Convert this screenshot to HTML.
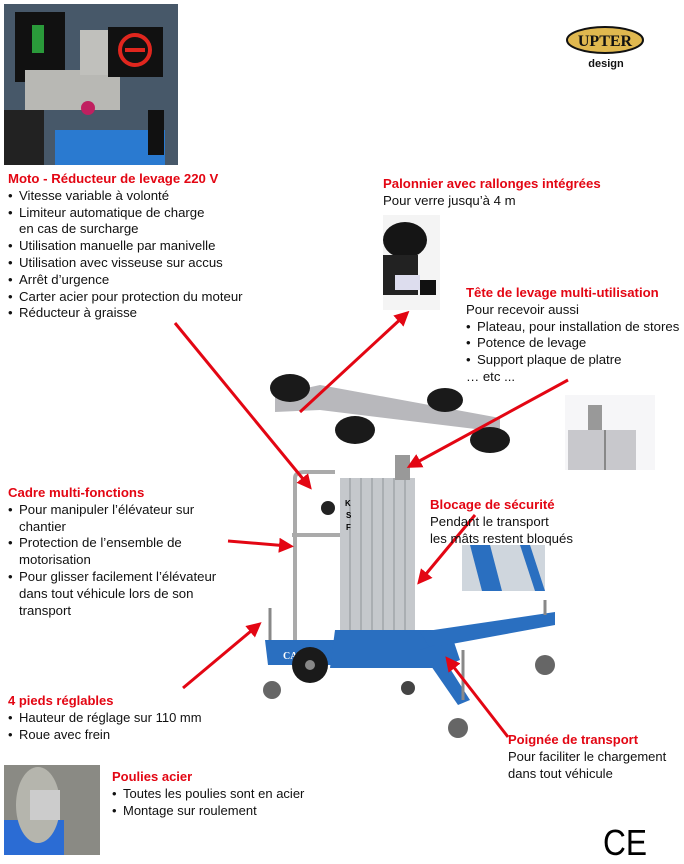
<!DOCTYPE html>
<html><head><meta charset="utf-8"><style>
*{margin:0;padding:0;box-sizing:border-box}
body{width:684px;height:864px;background:#fff;position:relative;overflow:hidden;font-family:"Liberation Sans",Arial,sans-serif;color:#111}
.t{position:absolute;font-size:13.2px;line-height:16.8px;white-space:nowrap}
.h{color:#e30613;font-weight:bold}
.b{padding-left:11px;position:relative}
.b:before{content:"•";position:absolute;left:0}
.c{font-size:13px}
svg{position:absolute;left:0;top:0}
</style></head><body>
<svg width="684" height="864" viewBox="0 0 684 864">
<defs><marker id="a" markerWidth="5" markerHeight="5" refX="3" refY="2.5" orient="auto" markerUnits="strokeWidth"><path d="M0,0 L5,2.5 L0,5 z" fill="#e30613"/></marker></defs>
<rect x="4" y="4" width="174" height="161" fill="#5a6a7a"/>
<rect x="4" y="4" width="174" height="161" fill="#3b4c5e" opacity=".6"/>
<rect x="15" y="12" width="50" height="70" fill="#111"/>
<rect x="32" y="25" width="12" height="28" fill="#2a9a3a"/>
<rect x="25" y="70" width="95" height="40" fill="#b8b8b4"/>
<rect x="80" y="30" width="35" height="45" fill="#c0c0bc"/>
<rect x="108" y="27" width="55" height="50" fill="#111"/>
<circle cx="135" cy="50" r="15" fill="none" stroke="#e0261e" stroke-width="4"/>
<rect x="125" y="48" width="20" height="4" fill="#e0261e"/>
<circle cx="88" cy="108" r="7" fill="#c02060"/>
<rect x="55" y="130" width="110" height="35" fill="#2a7ad0"/>
<rect x="148" y="110" width="16" height="45" fill="#111"/>
<rect x="4" y="110" width="40" height="55" fill="#222"/>
<ellipse cx="605" cy="40" rx="38" ry="13" fill="#e0b84f" stroke="#111" stroke-width="2"/>
<text x="605" y="46" text-anchor="middle" font-family="Liberation Serif" font-weight="bold" font-size="16" fill="#111">UPTER</text>
<text x="606" y="67" text-anchor="middle" font-family="Liberation Sans" font-weight="bold" font-size="11" fill="#111">design</text>
<rect x="383" y="215" width="57" height="95" fill="#f4f4f4"/>
<ellipse cx="405" cy="240" rx="22" ry="18" fill="#151515"/>
<rect x="383" y="255" width="35" height="40" fill="#222"/>
<rect x="395" y="275" width="25" height="15" fill="#dde"/>
<rect x="420" y="280" width="16" height="15" fill="#111"/>
<rect x="565" y="395" width="90" height="75" fill="#f6f6f8"/>
<rect x="588" y="405" width="14" height="25" fill="#999"/>
<rect x="568" y="430" width="68" height="40" fill="#c8c8cc"/>
<rect x="604" y="430" width="2" height="40" fill="#888"/>
<rect x="462" y="545" width="83" height="46" fill="#cfd6dd"/>
<path d="M470 545 L490 545 L502 591 L482 591z" fill="#2a6fc0"/>
<path d="M520 545 L530 545 L545 591 L535 591z" fill="#2a6fc0"/>
<rect x="4" y="765" width="96" height="90" fill="#8a8a84"/>
<rect x="4" y="820" width="60" height="35" fill="#2b6cd4"/>
<ellipse cx="38" cy="805" rx="22" ry="38" fill="#b5b5ad"/>
<rect x="30" y="790" width="30" height="30" fill="#ccc"/>
<g>
<rect x="340" y="478" width="75" height="162" fill="#c5c8cc"/>
<g stroke="#8f9398" stroke-width="1"><line x1="350" y1="478" x2="350" y2="640"/><line x1="361" y1="478" x2="361" y2="640"/><line x1="372" y1="478" x2="372" y2="640"/><line x1="383" y1="478" x2="383" y2="640"/><line x1="394" y1="478" x2="394" y2="640"/><line x1="405" y1="478" x2="405" y2="640"/></g>
<text x="345" y="506" font-size="8" font-weight="bold">K</text><text x="346" y="518" font-size="8" font-weight="bold">S</text><text x="346" y="530" font-size="8" font-weight="bold">F</text>
<path d="M295 478 L295 640 M295 478 Q295 472 305 472 L335 472 M292 535 L340 535" stroke="#aaa" stroke-width="4" fill="none"/>
<circle cx="328" cy="508" r="7" fill="#222"/>
<rect x="395" y="455" width="15" height="25" fill="#999"/>
<polygon points="275,395 320,385 500,418 500,432 320,410 275,412" fill="#b8b8bc"/>
<ellipse cx="290" cy="388" rx="20" ry="14" fill="#1a1a1a"/>
<ellipse cx="355" cy="430" rx="20" ry="14" fill="#1a1a1a"/>
<ellipse cx="445" cy="400" rx="18" ry="12" fill="#1a1a1a"/>
<ellipse cx="490" cy="440" rx="20" ry="13" fill="#1a1a1a"/>
<polygon points="265,640 340,640 340,665 268,665" fill="#2a6fc0"/>
<polygon points="335,630 450,630 460,660 440,668 330,668" fill="#2a6fc0"/>
<polygon points="420,632 555,612 555,625 430,648" fill="#2a6fc0"/>
<polygon points="420,650 435,645 470,700 458,705" fill="#2a6fc0"/>
<text x="283" y="659" fill="#fff" font-family="Liberation Serif" font-weight="bold" font-size="10">CA-400P</text>
<circle cx="310" cy="665" r="18" fill="#1a1a1a"/><circle cx="310" cy="665" r="5" fill="#888"/>
<circle cx="272" cy="690" r="9" fill="#666"/>
<circle cx="408" cy="688" r="7" fill="#444"/>
<circle cx="458" cy="728" r="10" fill="#666"/>
<circle cx="545" cy="665" r="10" fill="#666"/>
<line x1="270" y1="608" x2="270" y2="640" stroke="#888" stroke-width="3"/>
<line x1="545" y1="600" x2="545" y2="615" stroke="#888" stroke-width="3"/>
<line x1="463" y1="650" x2="463" y2="700" stroke="#888" stroke-width="3"/>
</g>
<g stroke="#e30613" stroke-width="3" fill="none" marker-end="url(#a)">
<line x1="175" y1="323" x2="308" y2="485"/>
<line x1="300" y1="412" x2="405" y2="315"/>
<line x1="568" y1="380" x2="412" y2="465"/>
<line x1="228" y1="541" x2="288" y2="546"/>
<line x1="475" y1="515" x2="421" y2="580"/>
<line x1="183" y1="688" x2="257" y2="626"/>
<line x1="508" y1="737" x2="449" y2="661"/>
</g>
<text x="603" y="855" font-family="Liberation Sans" font-size="36" fill="#000" textLength="44" lengthAdjust="spacingAndGlyphs">CE</text>
</svg>

<div class="t" style="left:8px;top:171px">
<div class="h">Moto - Réducteur de levage 220 V</div>
<div class="b">Vitesse variable à volonté</div>
<div class="b">Limiteur automatique de charge<br>en cas de surcharge</div>
<div class="b">Utilisation manuelle par manivelle</div>
<div class="b">Utilisation avec visseuse sur accus</div>
<div class="b">Arrêt d’urgence</div>
<div class="b">Carter acier pour protection du moteur</div>
<div class="b">Réducteur à graisse</div>
</div>

<div class="t" style="left:383px;top:176px">
<div class="h">Palonnier avec rallonges intégrées</div>
<div>Pour verre jusqu’à 4 m</div>
</div>

<div class="t" style="left:466px;top:285px">
<div class="h">Tête de levage multi-utilisation</div>
<div>Pour recevoir aussi</div>
<div class="b">Plateau, pour installation de stores</div>
<div class="b">Potence de levage</div>
<div class="b">Support plaque de platre</div>
<div>… etc ...</div>
</div>

<div class="t" style="left:8px;top:485px">
<div class="h">Cadre multi-fonctions</div>
<div class="b">Pour manipuler l’élévateur sur<br>chantier</div>
<div class="b">Protection de l’ensemble de<br>motorisation</div>
<div class="b">Pour glisser facilement l’élévateur<br>dans tout véhicule lors de son<br>transport</div>
</div>

<div class="t" style="left:430px;top:497px">
<div class="h">Blocage de sécurité</div>
<div>Pendant le transport</div>
<div>les mâts restent bloqués</div>
</div>

<div class="t c" style="left:8px;top:693px">
<div class="h">4 pieds réglables</div>
<div class="b">Hauteur de réglage sur 110 mm</div>
<div class="b">Roue avec frein</div>
</div>

<div class="t c" style="left:508px;top:732px">
<div class="h">Poignée de transport</div>
<div>Pour faciliter le chargement</div>
<div>dans tout véhicule</div>
</div>

<div class="t c" style="left:112px;top:769px">
<div class="h">Poulies acier</div>
<div class="b">Toutes les poulies sont en acier</div>
<div class="b">Montage sur roulement</div>
</div>
</body></html>
